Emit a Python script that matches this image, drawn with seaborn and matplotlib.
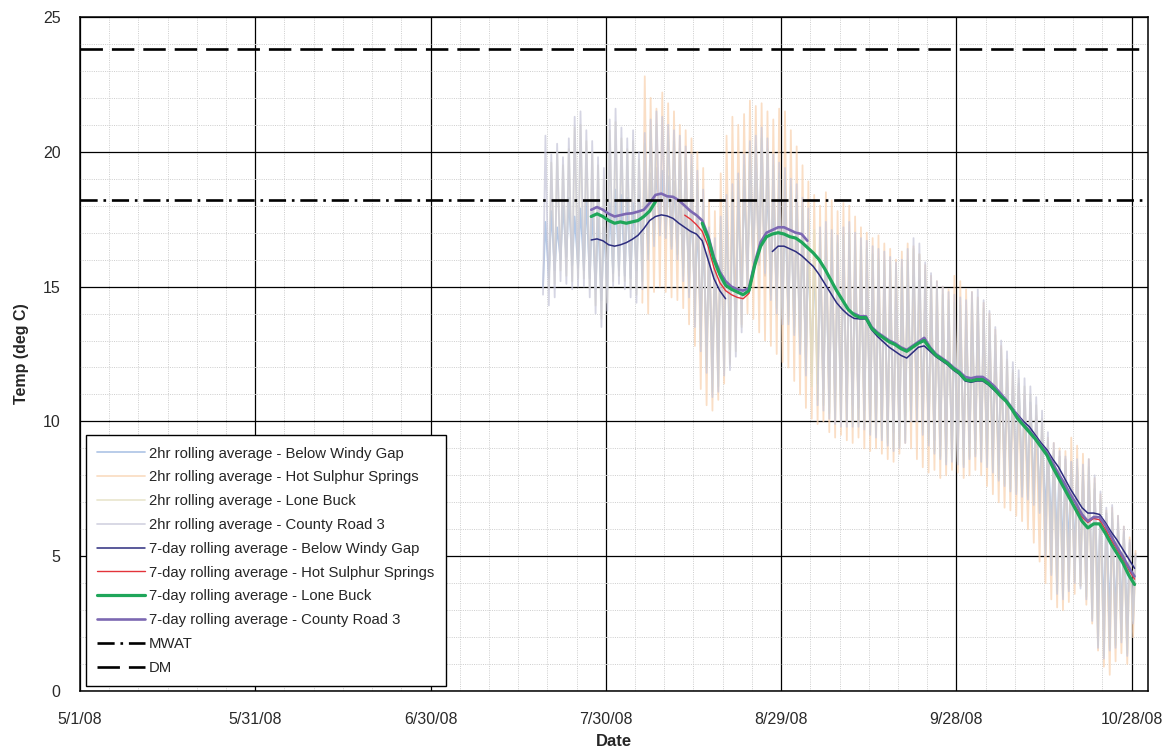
import numpy as np
import pandas as pd
import matplotlib
matplotlib.use("Agg")
import matplotlib.pyplot as plt
import matplotlib.dates as mdates
from matplotlib.ticker import FixedLocator, FixedFormatter, MultipleLocator, NullFormatter
import seaborn as sns

nan = np.nan

# ---------------------------------------------------------------- axis setup
x_start = "2008-05-01"
x_span_days = 182.8
tick_dates = ["2008-05-01", "2008-05-31", "2008-06-30", "2008-07-30",
              "2008-08-29", "2008-09-28", "2008-10-28"]
tick_labels = ["5/1/08", "5/31/08", "6/30/08", "7/30/08", "8/29/08", "9/28/08", "10/28/08"]
y_ticks = [0, 5, 10, 15, 20, 25]

# Standards
mwat = 18.2
dm = 23.8

# ------------------------------------------------ 2hr rolling average (daily high / low)
# Below Windy Gap, from 7/19
bwg_2hr_start = "2008-07-19"
bwg_2hr_high = [
    17.4, 17.8, 17.2, 18.0, 18.3, 17.6, 17.9,
    18.2, 17.8, 17.5, 17.2, 18.1, 18.6, 18.4,
    18.3, 18.1, 18.4, 18.9, 19.2, 19.4, 19.3,
    19.1, 18.9, 18.6, 18.3, 18.0, 17.5, 16.8,
    15.9, 15.6, 16.2, nan, 17.8, 18.3, 18.7,
    19.0, 19.3, 19.4, 19.0, 18.5, 18.3, 18.1,
    17.8, 17.5, 17.0, 16.6, 16.2, 16.0, 16.1,
    15.9, 15.8, 16.0, 16.1, 15.8, 15.6, 15.5,
    15.3, 15.2, 15.1, 14.9, 14.7, 14.8, 15.1,
    15.4, 15.3, 14.8, 14.4, 14.1, 13.9, 13.7,
    13.6, 13.5, 13.4, 13.6, 13.7, 13.4, 13.0,
    12.5, 11.9, 11.4, 11.3, 11.4, 10.8, 10.7,
    10.1, 9.6, 9.2, 8.9, 8.7, 8.6, 8.5,
    8.3, 8.0, 7.8, 7.5, 7.0, 6.6, 6.4,
    6.2, 5.9, 5.5, 5.1]
bwg_2hr_low = [
    15.0, 15.3, 15.6, 16.0, 16.1, 15.8, 15.7,
    15.6, 15.3, 14.9, 14.5, 14.9, 15.5, 15.6,
    15.4, 15.3, 15.6, 16.2, 16.6, 16.9, 17.0,
    16.8, 16.5, 16.2, 15.7, 15.2, 14.4, 13.5,
    12.8, 12.4, 12.6, nan, 13.8, 14.4, 15.0,
    15.6, 15.9, 15.8, 15.4, 14.8, 14.5, 14.2,
    13.9, 13.5, 12.9, 12.3, 11.8, 11.4, 11.2,
    11.0, 10.9, 10.8, 10.7, 10.6, 10.5, 10.4,
    10.2, 10.1, 9.9, 9.7, 9.6, 9.8, 10.2,
    10.5, 10.4, 9.9, 9.6, 9.3, 9.1, 9.0,
    9.0, 8.9, 9.0, 9.2, 9.3, 9.1, 8.9,
    8.7, 8.4, 8.2, 8.0, 7.9, 7.6, 7.5,
    7.3, 7.0, 6.5, 5.9, 5.4, 5.1, 5.2,
    5.0, 4.7, 4.4, 3.9, 3.3, 2.8, 2.6,
    2.7, 2.9, 2.5, 3.0]

# Hot Sulphur Springs, from 8/5
hss_2hr_start = "2008-08-05"
hss_2hr_high = [
    22.8, 22.0, 21.6, 22.2, 21.8, 21.5, 21.0,
    20.8, 20.5, 20.0, 19.4, 18.2, 17.8, 19.2,
    20.6, 21.3, 21.0, 21.4, 21.9, 21.7, 21.8,
    21.5, 21.2, 21.6, 21.5, 20.8, 20.2, 19.5,
    18.9, 18.4, 18.0, 18.5, 18.2, 17.8, 18.1,
    18.0, 17.6, 17.2, 17.0, 16.8, 16.9, 16.6,
    16.4, 16.0, 16.3, 16.6, 16.5, 16.2, 15.8,
    15.4, 15.2, 15.0, 14.9, 15.4, 15.2, 14.9,
    14.8, 14.6, 14.4, 14.0, 13.4, 12.8, 12.2,
    11.8, 11.3, 11.0, 10.6, 10.2, 9.8, 9.4,
    9.2, 9.0, 8.9, 9.4, 9.1, 8.8, 8.6,
    7.9, 7.3, 6.7, 6.8, 6.5, 6.1, 5.7,
    5.2]
hss_2hr_low = [
    14.4, 14.0, 14.8, 15.0, 14.8, 14.6, 14.5,
    14.2, 13.6, 12.8, 11.2, 10.6, 10.4, 10.8,
    11.4, 12.2, 12.9, 13.6, 14.0, 13.8, 13.3,
    13.0, 12.8, 12.5, 12.2, 12.0, 11.5, 11.0,
    10.5, 10.1, 9.9, 10.0, 9.6, 9.4, 9.5,
    9.3, 9.2, 9.4, 9.0, 8.9, 9.0, 8.8,
    8.6, 8.5, 8.8, 9.2, 9.0, 8.6, 8.3,
    8.1, 8.2, 7.9, 8.0, 8.2, 8.1, 7.9,
    8.0, 8.2, 8.0, 7.6, 7.3, 7.0, 6.8,
    6.7, 6.5, 6.3, 6.0, 5.5, 4.8, 4.0,
    3.4, 3.1, 3.0, 3.3, 3.6, 3.9, 3.2,
    2.5, 1.5, 0.9, 0.6, 1.1, 1.4, 1.0,
    2.0]

# Lone Buck, from 7/20
lb_2hr_start = "2008-07-20"
lb_2hr_high = [
    19.6, 20.0, 19.5, 20.1, 20.9, 21.0, 20.4,
    20.0, 19.5, 19.0, 20.8, 21.1, 20.5, 20.1,
    20.4, 19.7, 20.3, 20.8, 21.0, nan, 20.6,
    20.4, 20.1, 19.8, 19.5, 18.9, 18.2, 16.9,
    16.5, 17.3, 18.0, 18.5, 18.9, 19.5, 20.0,
    20.2, 20.5, 20.1, 19.5, 19.2, 19.0, 18.7,
    18.4, 17.9, 17.5, 17.1, 16.9, 17.0, 16.8,
    16.6, 16.9, 17.0, 16.7, 16.5, 16.4, 16.2,
    16.0, 15.9, 15.8, 15.6, 15.7, 16.0, 16.4,
    16.2, 15.6, 15.2, 14.9, 14.7, 14.5, 14.4,
    14.3, 14.1, 14.4, 14.5, 14.2, 13.8, 13.2,
    12.7, 12.3, 11.9, 11.6, 11.3, 11.0, 10.6,
    10.1, 9.3, 8.9, 8.6, 8.4, 8.2, 8.3,
    8.1, 8.3, 7.7, 7.1, 6.5, 6.6, 6.2,
    5.8, 5.3, 4.7]
lb_2hr_low = [
    14.9, 15.1, 15.6, 15.4, 15.2, 15.3, 15.3,
    14.9, 14.3, 13.8, 14.4, 15.2, 15.4, 15.2,
    14.9, 14.7, 15.2, 16.2, 16.7, nan, 16.9,
    16.5, 16.2, 15.4, 14.8, 13.7, 12.8, 12.0,
    11.1, 11.3, 11.9, 12.1, 12.6, 13.5, 15.0,
    16.0, 16.1, 15.6, 14.7, 14.2, 13.8, 13.7,
    13.3, 12.6, 11.9, 11.3, 10.8, 10.6, 10.3,
    10.1, 10.0, 10.0, 9.9, 9.9, 9.8, 9.6,
    9.5, 9.4, 9.2, 9.0, 9.1, 9.3, 10.1,
    10.1, 9.6, 9.2, 8.9, 8.7, 8.5, 8.6,
    8.5, 8.4, 8.7, 8.8, 8.6, 8.4, 8.2,
    7.9, 7.7, 7.5, 7.4, 7.3, 7.2, 7.0,
    6.7, 5.1, 4.4, 3.7, 3.5, 3.8, 4.1,
    3.9, 3.5, 2.7, 1.7, 1.3, 1.6, 1.7,
    1.9, 1.4, 2.6]

# County Road 3, from 7/19
cr3_2hr_start = "2008-07-19"
cr3_2hr_high = [
    20.6, 19.9, 20.3, 19.8, 20.5, 21.3, 21.5,
    20.8, 20.4, 19.8, 19.4, 21.2, 21.6, 20.9,
    20.5, 20.8, 20.0, 20.7, 21.2, 21.5, 21.3,
    21.0, 20.8, 20.6, 20.2, 19.9, 19.3, 18.6,
    17.2, 16.8, 17.6, 18.4, 18.8, 19.2, 19.9,
    20.4, 20.6, 20.9, 20.5, 19.9, 19.6, 19.4,
    19.0, 18.8, 18.3, 17.9, nan, 17.2, 17.4,
    17.1, 16.9, 17.2, 17.4, 17.0, 16.8, 16.7,
    16.5, 16.4, 16.3, 16.1, 15.9, 16.0, 16.4,
    16.8, 16.6, 15.9, 15.5, 15.2, 15.0, 14.8,
    14.7, 14.6, 14.5, 14.8, 14.9, 14.5, 14.1,
    13.5, 13.0, 12.6, 12.2, 11.9, 11.6, 11.3,
    10.9, 10.4, 9.6, 9.2, 8.9, 8.7, 8.5,
    8.6, 8.4, 8.6, 8.0, 7.4, 6.8, 6.9,
    6.5, 6.1, 5.6, 5.0]
cr3_2hr_low = [
    14.7, 14.3, 14.6, 15.2, 15.1, 14.9, 15.0,
    15.0, 14.6, 14.0, 13.5, 14.1, 15.0, 15.1,
    14.9, 14.6, 14.4, 14.9, 16.0, 16.5, 16.9,
    16.8, 16.4, 16.0, 15.2, 14.6, 13.5, 12.6,
    11.8, 10.9, 11.1, 11.7, 11.9, 12.4, 13.3,
    14.8, 15.9, 15.9, 15.5, 14.5, 14.0, 13.6,
    13.6, 13.2, 12.5, 11.7, nan, 10.6, 10.4,
    10.1, 9.9, 9.8, 9.8, 9.8, 9.8, 9.7,
    9.5, 9.4, 9.3, 9.1, 8.9, 9.0, 9.2,
    10.0, 10.0, 9.5, 9.1, 8.8, 8.6, 8.4,
    8.5, 8.4, 8.3, 8.6, 8.7, 8.5, 8.3,
    8.1, 7.8, 7.6, 7.4, 7.3, 7.2, 7.1,
    6.9, 6.6, 5.0, 4.3, 3.6, 3.4, 3.7,
    4.0, 3.8, 3.4, 2.6, 1.6, 1.2, 1.5,
    1.6, 1.8, 1.3, 2.5]

# ------------------------------------------------ 7-day rolling averages (daily)
bwg_7d_start = "2008-07-27"
bwg_7d = [
    16.73, 16.77, 16.70, 16.55, 16.50, 16.55, 16.63,
    16.75, 16.90, 17.15, 17.45, 17.60, 17.66, 17.62,
    17.53, 17.35, 17.20, 17.05, 16.95, 16.70, 16.00,
    15.30, 14.85, 14.55,
    nan, nan, nan, nan, nan, nan, nan,
    16.30, 16.50, 16.50, 16.40, 16.30, 16.15, 15.95,
    15.75, 15.45, 15.10, 14.75, 14.40, 14.15, 13.95,
    13.82, 13.80, 13.80, 13.40, 13.15, 12.95, 12.75,
    12.60, 12.45, 12.35, 12.55, 12.75, 12.80, 12.60,
    12.40, 12.25, 12.10, 11.90, 11.75, 11.50, 11.45,
    11.50, 11.50, 11.35, 11.15, 10.95, 10.75, 10.50,
    10.25, 10.00, 9.80, 9.50, 9.20, 8.95, 8.60,
    8.30, 7.90, 7.50, 7.15, 6.80, 6.60, 6.60,
    6.55, 6.25, 5.90, 5.60, 5.25, 4.90, 4.55]

hss_7d_start = "2008-08-12"
hss_7d = [
    17.65, 17.50, 17.30, 17.05, 16.50, 15.70, 15.15,
    14.85, 14.70, 14.60, 14.55, 14.75, 15.75, 16.50,
    16.85, 16.95, 17.00, 16.95, 16.85, 16.80, 16.65,
    16.45, 16.25, 16.00, 15.65, 15.25, 14.85, 14.50,
    14.15, 13.95, 13.85, 13.85, 13.45, 13.25, 13.10,
    12.95, 12.85, 12.70, 12.60, 12.75, 12.90, 13.05,
    12.70, 12.45, 12.30, 12.15, 11.95, 11.80, 11.55,
    11.50, 11.60, 11.60, 11.40, 11.20, 10.95, 10.75,
    10.45, 10.10, 9.85, 9.60, 9.35, 9.05, 8.75,
    8.35, 7.95, 7.55, 7.15, 6.80, 6.45, 6.25,
    6.40, 6.35, 6.00, 5.60, 5.25, 4.90, 4.50,
    4.15]

lb_7d_start = "2008-07-27"
lb_7d = [
    17.60, 17.70, 17.60, 17.45, 17.35, 17.40, 17.35,
    17.40, 17.45, 17.60, 17.80, 18.15,
    nan, nan, nan, nan, nan, nan, nan,
    17.35, 16.80, 16.00, 15.45, 15.05, 14.90, 14.80,
    14.70, 14.85, 15.80, 16.50, 16.85, 16.95, 17.00,
    16.95, 16.85, 16.80, 16.65, 16.45, 16.25, 16.00,
    15.65, 15.25, 14.85, 14.50, 14.15, 13.95, 13.85,
    13.85, 13.45, 13.25, 13.10, 12.95, 12.85, 12.70,
    12.60, 12.75, 12.90, 13.00, 12.70, 12.45, 12.30,
    12.15, 11.95, 11.80, 11.55, 11.50, 11.55, 11.55,
    11.40, 11.20, 10.95, 10.75, 10.45, 10.10, 9.85,
    9.60, 9.35, 9.05, 8.75, 8.30, 7.90, 7.50,
    7.10, 6.70, 6.30, 6.05, 6.20, 6.20, 5.85,
    5.45, 5.10, 4.75, 4.30, 3.95]

cr3_7d_start = "2008-07-27"
cr3_7d = [
    17.85, 17.95, 17.85, 17.70, 17.60, 17.65, 17.70,
    17.72, 17.78, 17.85, 18.10, 18.40, 18.45, 18.35,
    18.33, 18.20, 18.00, 17.80, 17.65, 17.45, 16.90,
    16.10, 15.55, 15.20, 15.00, 14.90, 14.85, 14.95,
    15.90, 16.65, 17.00, 17.10, 17.20, 17.20, 17.10,
    17.00, 16.95, 16.70,
    nan, nan, nan, nan, nan, nan, nan,
    14.00, 13.90, 13.90, 13.50, 13.30, 13.15, 13.00,
    12.90, 12.75, 12.65, 12.80, 12.95, 13.10, 12.75,
    12.50, 12.35, 12.20, 12.00, 11.85, 11.65, 11.60,
    11.65, 11.65, 11.50, 11.30, 11.05, 10.80, 10.50,
    10.20, 9.90, 9.65, 9.40, 9.10, 8.85, 8.45,
    8.05, 7.70, 7.30, 6.95, 6.55, 6.30, 6.45,
    6.45, 6.15, 5.75, 5.35, 5.00, 4.60, 4.25]

labels = [
    "2hr rolling average - Below Windy Gap",
    "2hr rolling average - Hot Sulphur Springs",
    "2hr rolling average - Lone Buck",
    "2hr rolling average - County Road 3",
    "7-day rolling average - Below Windy Gap",
    "7-day rolling average - Hot Sulphur Springs",
    "7-day rolling average - Lone Buck",
    "7-day rolling average - County Road 3",
    "MWAT",
    "DM",
]


def diurnal_frame(start, highs, lows):
    """Daily low (early morning) and high (afternoon) as one time series."""
    days = pd.date_range(start, periods=len(highs), freq="D")
    rows = []
    for day, lo, hi in zip(days, lows, highs):
        rows.append((day + pd.Timedelta(hours=6), lo))
        rows.append((day + pd.Timedelta(hours=16), hi))
    return pd.DataFrame(rows, columns=["time", "temp"])


def daily_frame(start, values):
    days = pd.date_range(start, periods=len(values), freq="D") + pd.Timedelta(hours=12)
    return pd.DataFrame({"time": days, "temp": values})


def draw_segments(ax, df, label, **kw):
    """Plot a series, leaving gaps where readings are missing."""
    valid = df["temp"].notna()
    seg_id = (~valid).cumsum()[valid]
    first = True
    for _, part in df[valid].groupby(seg_id):
        sns.lineplot(data=part, x="time", y="temp", ax=ax, legend=False,
                     label=label if first else "_nolegend_", **kw)
        first = False


sns.set_style("white")
plt.rcParams["font.family"] = ["Liberation Sans", "DejaVu Sans"]

fig = plt.figure(figsize=(11.72, 7.53), dpi=100)
ax = fig.add_axes([80 / 1172, 62 / 753, 1068 / 1172, 674 / 753])

thin_kw = dict(linewidth=1.3, alpha=0.75, zorder=2)
draw_segments(ax, diurnal_frame(bwg_2hr_start, bwg_2hr_high, bwg_2hr_low), labels[0],
              color="#9ab6df", **thin_kw)
draw_segments(ax, diurnal_frame(hss_2hr_start, hss_2hr_high, hss_2hr_low), labels[1],
              color="#f9d3b2", **thin_kw)
draw_segments(ax, diurnal_frame(lb_2hr_start, lb_2hr_high, lb_2hr_low), labels[2],
              color="#e4dfc2", **thin_kw)
draw_segments(ax, diurnal_frame(cr3_2hr_start, cr3_2hr_high, cr3_2hr_low), labels[3],
              color="#c8c8da", **thin_kw)

draw_segments(ax, daily_frame(bwg_7d_start, bwg_7d), labels[4],
              color="#2c2c7e", linewidth=1.1, zorder=4)
draw_segments(ax, daily_frame(hss_7d_start, hss_7d), labels[5],
              color="#e3333a", linewidth=1.0, zorder=4)
draw_segments(ax, daily_frame(lb_7d_start, lb_7d), labels[6],
              color="#1fa65a", linewidth=2.3, zorder=6)
draw_segments(ax, daily_frame(cr3_7d_start, cr3_7d), labels[7],
              color="#7c68b2", linewidth=1.9, zorder=5)

ax.axhline(mwat, color="black", linewidth=1.9, dashes=(6.5, 2.2, 1.0, 2.2),
           label=labels[8], zorder=7)
ax.axhline(dm, color="black", linewidth=1.9, dashes=(8.5, 3.4),
           label=labels[9], zorder=7)

# Axis limits and ticks
x0 = pd.Timestamp(x_start)
ax.set_xlim(x0, x0 + pd.Timedelta(days=x_span_days))
ax.set_ylim(0, 25)

major_x = [mdates.date2num(pd.Timestamp(d)) for d in tick_dates]
minor_x = [mdates.date2num(x0 + pd.Timedelta(days=k)) for k in range(0, 185, 5)]
ax.xaxis.set_major_locator(FixedLocator(major_x))
ax.xaxis.set_major_formatter(FixedFormatter(tick_labels))
ax.xaxis.set_minor_locator(FixedLocator(minor_x))
ax.xaxis.set_minor_formatter(NullFormatter())
ax.yaxis.set_major_locator(FixedLocator(y_ticks))
ax.yaxis.set_minor_locator(MultipleLocator(1))

ax.grid(which="major", color="black", linewidth=0.9, linestyle="-", zorder=1)
ax.grid(which="minor", color="#cdcdcd", linewidth=0.7, linestyle=(0, (1, 1.3)), zorder=1)
ax.set_axisbelow(True)

ax.tick_params(axis="both", which="major", direction="out", length=5, width=1,
               color="black", labelsize=11.5, labelcolor="#2a2a2a")
ax.tick_params(axis="x", which="major", pad=10)
ax.tick_params(axis="y", which="major", pad=9)
ax.tick_params(which="minor", length=0)
for side in ["left", "right", "top", "bottom"]:
    ax.spines[side].set_visible(True)
    ax.spines[side].set_color("black")
    ax.spines[side].set_linewidth(1.1)

ax.set_xlabel("Date", fontsize=12, fontweight="bold", labelpad=5)
ax.set_ylabel("Temp (deg C)", fontsize=11.5, fontweight="bold", labelpad=10)

handles, hlabels = ax.get_legend_handles_labels()
order = [hlabels.index(l) for l in labels]
leg = ax.legend([handles[i] for i in order], [hlabels[i] for i in order],
                loc="lower left", bbox_to_anchor=(0.0056, 0.0074), borderaxespad=0,
                fontsize=10.7, frameon=True, fancybox=False, framealpha=1,
                edgecolor="black", handlelength=3.2, handletextpad=0.3,
                labelspacing=0.66, borderpad=0.75)
leg.get_frame().set_linewidth(1.0)
leg.set_zorder(10)

fig.savefig("out.png", dpi=100)
